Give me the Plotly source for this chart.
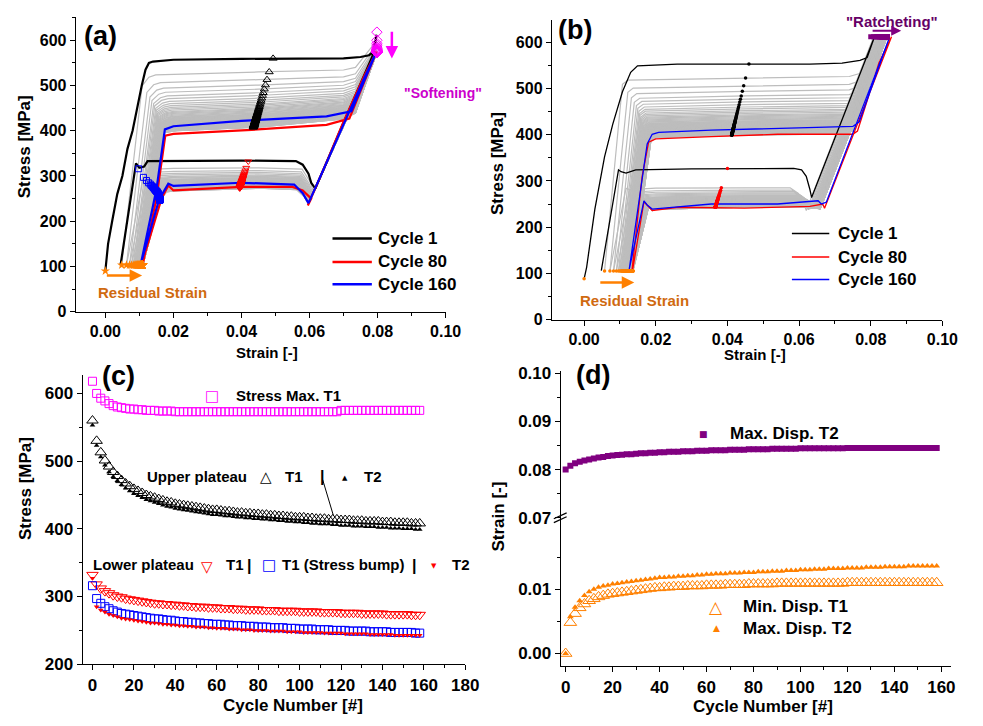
import plotly.graph_objects as go

W, H = 983, 726
FONT = "Liberation Sans, Arial, sans-serif"
SYM = "DejaVu Sans, Liberation Sans, sans-serif"

# ---------------- data: cycle-number series (panels c, d) ----------------
CYCLES = list(range(0, 160, 2))

STRESS_MAX_T1 = [618, 600, 593, 589, 585, 582, 580, 579, 578, 577,
                 577, 576, 576, 575, 575, 575, 574, 574, 574, 574,
                 573, 573, 573, 573, 573, 573, 573, 573, 573, 573,
                 573, 573, 573, 573, 573, 573, 573, 573, 573, 573,
                 573, 573, 573, 573, 573, 573, 573, 573, 573, 573,
                 573, 573, 573, 573, 573, 573, 573, 573, 573, 573,
                 575, 575, 575, 575, 575, 575, 575, 575, 575, 575,
                 575, 575, 575, 575, 575, 575, 575, 575, 575, 575]
UPPER_T1 = [560, 530, 513, 501, 492, 484, 478, 472, 467, 463,
            459, 456, 453, 450, 448, 446, 444, 442, 440, 439,
            437, 436, 435, 434, 433, 432, 431, 430, 429, 428,
            428, 427, 426, 426, 425, 424, 424, 423, 423, 422,
            422, 421, 421, 420, 420, 419, 419, 418, 418, 417,
            417, 417, 416, 416, 415, 415, 415, 414, 414, 414,
            413, 413, 413, 412, 412, 412, 411, 411, 411, 411,
            410, 410, 410, 409, 409, 409, 409, 408, 408, 408]
UPPER_T2 = [553, 523, 506, 494, 484, 477, 471, 465, 460, 456,
            452, 449, 446, 443, 441, 439, 437, 435, 433, 432,
            430, 429, 428, 427, 426, 425, 424, 423, 422, 421,
            421, 420, 419, 419, 418, 417, 417, 416, 416, 415,
            415, 414, 414, 413, 413, 412, 412, 411, 411, 410,
            410, 409, 409, 408, 408, 407, 407, 407, 406, 406,
            405, 405, 405, 404, 404, 404, 403, 403, 403, 402,
            402, 402, 401, 401, 401, 400, 400, 400, 399, 399]
LOWER_T1 = [332, 318, 312, 308, 305, 302, 300, 299, 297, 296,
            295, 294, 293, 292, 291, 290, 290, 289, 289, 288,
            288, 287, 287, 286, 286, 285, 285, 285, 284, 284,
            284, 283, 283, 283, 282, 282, 282, 281, 281, 281,
            281, 280, 280, 280, 280, 279, 279, 279, 279, 279,
            278, 278, 278, 278, 278, 277, 277, 277, 277, 277,
            276, 276, 276, 276, 276, 275, 275, 275, 275, 275,
            275, 274, 274, 274, 274, 274, 274, 273, 273, 273]
BUMP_T1 = [316, 297, 290, 285, 282, 279, 277, 275, 274, 273,
           272, 271, 270, 269, 268, 267, 267, 266, 265, 265,
           264, 263, 263, 262, 262, 261, 261, 260, 260, 259,
           259, 259, 258, 258, 257, 257, 257, 256, 256, 256,
           255, 255, 255, 254, 254, 254, 254, 253, 253, 253,
           252, 252, 252, 252, 251, 251, 251, 251, 250, 250,
           250, 250, 249, 249, 249, 249, 249, 248, 248, 248,
           248, 248, 247, 247, 247, 247, 247, 247, 246, 246]
LOWER_T2 = [327, 285, 280, 277, 274, 272, 270, 268, 267, 266,
            265, 264, 263, 262, 261, 261, 260, 259, 259, 258,
            258, 257, 257, 256, 256, 255, 255, 255, 254, 254,
            253, 253, 253, 252, 252, 252, 251, 251, 251, 250,
            250, 250, 250, 249, 249, 249, 249, 248, 248, 248,
            248, 247, 247, 247, 247, 247, 246, 246, 246, 246,
            246, 245, 245, 245, 245, 245, 245, 244, 244, 244,
            244, 244, 244, 243, 243, 243, 243, 243, 243, 243]
MAXDISP_T2 = [0.0800, 0.0808, 0.0813, 0.0816, 0.0819, 0.0821, 0.0823, 0.0825, 0.0826, 0.0828,
              0.0829, 0.0830, 0.0831, 0.0832, 0.0832, 0.0833, 0.0834, 0.0834, 0.0835, 0.0835,
              0.0836, 0.0836, 0.0837, 0.0837, 0.0837, 0.0838, 0.0838, 0.0838, 0.0839, 0.0839,
              0.0839, 0.0840, 0.0840, 0.0840, 0.0840, 0.0841, 0.0841, 0.0841, 0.0841, 0.0842,
              0.0842, 0.0842, 0.0842, 0.0842, 0.0843, 0.0843, 0.0843, 0.0843, 0.0843, 0.0843,
              0.0844, 0.0844, 0.0844, 0.0844, 0.0844, 0.0844, 0.0844, 0.0844, 0.0844, 0.0844,
              0.0845, 0.0845, 0.0845, 0.0845, 0.0845, 0.0845, 0.0845, 0.0845, 0.0845, 0.0845,
              0.0845, 0.0845, 0.0845, 0.0845, 0.0845, 0.0845, 0.0845, 0.0845, 0.0845, 0.0845]
MINDISP_T1 = [0.0000, 0.0048, 0.0062, 0.0071, 0.0077, 0.0082, 0.0085, 0.0088, 0.0090, 0.0092,
              0.0093, 0.0094, 0.0095, 0.0096, 0.0097, 0.0098, 0.0099, 0.0100, 0.0101, 0.0102,
              0.0102, 0.0103, 0.0103, 0.0104, 0.0104, 0.0104, 0.0105, 0.0105, 0.0105, 0.0105,
              0.0106, 0.0106, 0.0106, 0.0106, 0.0107, 0.0107, 0.0107, 0.0107, 0.0107, 0.0108,
              0.0108, 0.0108, 0.0108, 0.0108, 0.0108, 0.0109, 0.0109, 0.0109, 0.0109, 0.0109,
              0.0109, 0.0109, 0.0109, 0.0109, 0.0109, 0.0109, 0.0109, 0.0109, 0.0109, 0.0109,
              0.0110, 0.0110, 0.0110, 0.0110, 0.0110, 0.0110, 0.0110, 0.0110, 0.0110, 0.0110,
              0.0110, 0.0110, 0.0110, 0.0110, 0.0110, 0.0110, 0.0110, 0.0110, 0.0110, 0.0110]
DISP_T2_ORANGE = [0.0000, 0.0057, 0.0072, 0.0082, 0.0090, 0.0096, 0.0100, 0.0103, 0.0105, 0.0106,
                  0.0108, 0.0109, 0.0110, 0.0111, 0.0112, 0.0113, 0.0114, 0.0115, 0.0116, 0.0117,
                  0.0118, 0.0118, 0.0119, 0.0119, 0.0120, 0.0120, 0.0121, 0.0121, 0.0122, 0.0122,
                  0.0123, 0.0123, 0.0124, 0.0124, 0.0124, 0.0125, 0.0125, 0.0125, 0.0126, 0.0126,
                  0.0126, 0.0127, 0.0127, 0.0127, 0.0128, 0.0128, 0.0128, 0.0129, 0.0129, 0.0129,
                  0.0130, 0.0130, 0.0130, 0.0131, 0.0131, 0.0131, 0.0132, 0.0132, 0.0132, 0.0132,
                  0.0133, 0.0133, 0.0133, 0.0133, 0.0134, 0.0134, 0.0134, 0.0134, 0.0135, 0.0135,
                  0.0135, 0.0135, 0.0135, 0.0136, 0.0136, 0.0136, 0.0136, 0.0136, 0.0136, 0.0136]

# ---------------- data: hysteresis loops (panels a, b) ----------------
A_C1_STRAIN = [0.0000, 0.0008, 0.0020, 0.0035, 0.0050, 0.0065, 0.0080, 0.0095, 0.0107, 0.0118,
               0.0128, 0.0140, 0.0200, 0.0400, 0.0700, 0.0750, 0.0775, 0.0788, 0.0797, 0.0785,
               0.0700, 0.0660, 0.0617, 0.0605, 0.0597, 0.0580, 0.0560, 0.0400, 0.0200, 0.0124,
               0.0114, 0.0100, 0.0090, 0.0070, 0.0045]
A_C1_STRESS = [90, 150, 200, 260, 300, 360, 400, 460, 500, 535,
               550, 553, 557, 559, 560, 563, 567, 575, 612, 565,
               418, 348, 272, 285, 305, 325, 333, 334, 334, 333,
               321, 318, 328, 230, 105]
A_C80_STRAIN = [0.0110, 0.0150, 0.0176, 0.0200, 0.0430, 0.0650, 0.0717, 0.0797, 0.0760, 0.0700,
                0.0650, 0.0595, 0.0605, 0.0580, 0.0550, 0.0400, 0.0200, 0.0185, 0.0165, 0.0107]
A_C80_STRESS = [105, 250, 389, 393, 402, 413, 427, 575, 520, 420,
                330, 235, 250, 268, 276, 276, 268, 279, 250, 105]
A_C160_STRAIN = [0.0105, 0.0150, 0.0175, 0.0200, 0.0400, 0.0650, 0.0723, 0.0795, 0.0760, 0.0700,
                 0.0650, 0.0597, 0.0580, 0.0555, 0.0400, 0.0200, 0.0185, 0.0165, 0.0158, 0.0105]
A_C160_STRESS = [108, 270, 403, 410, 422, 432, 443, 572, 515, 415,
                 330, 240, 262, 281, 285, 278, 283, 258, 248, 108]

B_C1_STRAIN = [0.0000, 0.0007, 0.0030, 0.0057, 0.0080, 0.0107, 0.0130, 0.0149, 0.0260, 0.0630,
               0.0720, 0.0770, 0.0790, 0.0810, 0.0760, 0.0700, 0.0635, 0.0630, 0.0620, 0.0607,
               0.0585, 0.0300, 0.0144, 0.0117, 0.0103, 0.0096, 0.0048]
B_C1_STRESS = [88, 113, 239, 352, 423, 493, 535, 549, 553, 553,
               555, 561, 567, 611, 512, 393, 264, 282, 310, 324,
               327, 326, 324, 317, 320, 324, 106]
B_C80_STRAIN = [0.0133, 0.0162, 0.0180, 0.0200, 0.0355, 0.0540, 0.0750, 0.0763, 0.0795, 0.0823,
                0.0858, 0.0765, 0.0671, 0.0666, 0.0630, 0.0447, 0.0263, 0.0190, 0.0167, 0.0135]
B_C80_STRESS = [102, 310, 384, 391, 396, 401, 401, 408, 486, 556,
                612, 427, 241, 250, 245, 241, 243, 236, 255, 105]
B_C160_STRAIN = [0.0126, 0.0176, 0.0190, 0.0208, 0.0355, 0.0630, 0.0750, 0.0768, 0.0852, 0.0760,
                 0.0676, 0.0662, 0.0653, 0.0540, 0.0355, 0.0190, 0.0176, 0.0167, 0.0126]
B_C160_STRESS = [109, 380, 401, 405, 410, 415, 418, 428, 610, 424,
                 254, 250, 257, 250, 250, 239, 248, 257, 109]

B_STRESS_MAX = 612          # stress-controlled peak in panel (b)
RESIDUAL_STRESS_A = 103     # stress level of the residual-strain markers
RESIDUAL_STRESS_B = 105

# marker tracks (a),(b): (strain at first cycle, strain at last cycle)
A_UPPER_TRACK = (0.0493, 0.0435)
A_LOWER_TRACK = (0.0420, 0.0395)
B_UPPER_TRACK = (0.0460, 0.0412)
B_LOWER_TRACK = (0.0400, 0.0366)
SOFTENING_STRAIN = 0.0798


def px(x):
    return x / W


def py(y):
    return 1 - y / H


def track(vals, ends):
    a, b = vals[0], vals[-1]
    return [ends[1] + (v - b) / (a - b) * (ends[0] - ends[1]) for v in vals]


def gray_loops_a():
    xs, ys = [], []
    n = len(CYCLES)
    U0, U1 = UPPER_T1[0], UPPER_T1[-1]
    for i in range(1, n):
        r0 = MINDISP_T1[i]
        r1 = MINDISP_T1[min(i + 1, n - 1)]
        U, L, B, S = UPPER_T1[i], LOWER_T1[i], BUMP_T1[i], STRESS_MAX_T1[i]
        f = (U0 - U) / (U0 - U1)
        vx = 0.0617 - 0.0020 * f
        vy = L - 60 + 25 * f
        pts = [(r0, RESIDUAL_STRESS_A), (r0 + 0.0060, U - 35 + 22 * f), (r0 + 0.0080, U - 12 + 2 * f),
               (r0 + 0.0100, U - 6 - 2 * f), (0.045, U), (0.070, U + 1 + 17 * f),
               (0.0735, U + 5 + 26 * f), (SOFTENING_STRAIN, S), (vx, vy),
               (vx - 0.0012, vy + 0.45 * (L - vy)), (vx - 0.0035, L - 3), (0.045, L),
               (0.020, L - 6 * f), (r1 + 0.0070, L - 6 * f - 2), (r1 + 0.0050, B),
               (r1, RESIDUAL_STRESS_A)]
        for p in pts:
            xs.append(p[0]); ys.append(p[1])
        xs.append(None); ys.append(None)
    return xs, ys


def gray_loops_b():
    xs, ys = [], []
    n = len(CYCLES)
    U0, U1 = UPPER_T2[0], UPPER_T2[-1]
    S = B_STRESS_MAX
    for i in range(1, n):
        r0 = DISP_T2_ORANGE[i]
        r1 = DISP_T2_ORANGE[min(i + 1, n - 1)]
        U, L, M = UPPER_T2[i], LOWER_T2[i], MAXDISP_T2[i]
        f = (U0 - U) / (U0 - U1)
        xh = M - (S - U - 10) / 21500
        vy = L - 60 * (1 - f) - 3 * f
        vx = M - (S - vy) / 20000
        pts = [(r0, RESIDUAL_STRESS_B), (r0 + 0.0050, U - 14), (r0 + 0.0065, U - 5), (0.045, U),
               (min(0.074, xh - 0.002), U + 3), (xh, U + 10), (M, S), (vx, vy),
               (vx - 0.0008, vy + 0.35 * (L - vy)), (vx - 0.0022, vy + 0.75 * (L - vy)),
               (vx - 0.0045, L), (0.045, L), (0.020, L - 4 * f), (r1 + 0.0055, L - 4 * f - 3),
               (r1 + 0.0045, L + 6 * f - 2), (r1, RESIDUAL_STRESS_B)]
        for p in pts:
            xs.append(p[0]); ys.append(p[1])
        xs.append(None); ys.append(None)
    return xs, ys


fig = go.Figure()

GRAY = "#BDBDBD"
ORANGE = "#FF8000"
PINK = "#FF00FF"
PURPLE = "#800080"

# ---------------- panel (a) ----------------
gx, gy = gray_loops_a()
fig.add_trace(go.Scatter(x=gx, y=gy, mode="lines", line=dict(color=GRAY, width=1.2),
                         xaxis="x", yaxis="y", showlegend=False, hoverinfo="skip"))
for sx, sy, col, name in [(A_C1_STRAIN, A_C1_STRESS, "black", "Cycle 1"),
                          (A_C80_STRAIN, A_C80_STRESS, "#FF0000", "Cycle 80"),
                          (A_C160_STRAIN, A_C160_STRESS, "#0000FF", "Cycle 160")]:
    fig.add_trace(go.Scatter(x=sx, y=sy, mode="lines", line=dict(color=col, width=2.2),
                             name=name, xaxis="x", yaxis="y", showlegend=False))
fig.add_trace(go.Scatter(x=track(UPPER_T1, A_UPPER_TRACK), y=UPPER_T1, mode="markers",
                         marker=dict(symbol="triangle-up-open", size=7, color="black", line=dict(width=1)),
                         xaxis="x", yaxis="y", showlegend=False))
fig.add_trace(go.Scatter(x=track(LOWER_T1, A_LOWER_TRACK), y=LOWER_T1, mode="markers",
                         marker=dict(symbol="triangle-down-open", size=6, color="#FF0000", line=dict(width=1)),
                         xaxis="x", yaxis="y", showlegend=False))
bump_x = [MINDISP_T1[min(i + 1, len(CYCLES) - 1)] + 0.0050 for i in range(len(CYCLES))]
fig.add_trace(go.Scatter(x=bump_x, y=BUMP_T1, mode="markers",
                         marker=dict(symbol="square-open", size=6, color="#0000FF", line=dict(width=1)),
                         xaxis="x", yaxis="y", showlegend=False))
fig.add_trace(go.Scatter(x=[SOFTENING_STRAIN] * len(CYCLES), y=STRESS_MAX_T1, mode="markers",
                         marker=dict(symbol="diamond-open", size=8, color=PINK, line=dict(width=1)),
                         xaxis="x", yaxis="y", showlegend=False))
fig.add_trace(go.Scatter(x=MINDISP_T1, y=[A_C1_STRESS[0]] + [RESIDUAL_STRESS_A] * (len(CYCLES) - 1),
                         mode="markers", marker=dict(symbol="star", size=7, color=ORANGE),
                         xaxis="x", yaxis="y", showlegend=False))

# ---------------- panel (b) ----------------
gx, gy = gray_loops_b()
fig.add_trace(go.Scatter(x=gx, y=gy, mode="lines", line=dict(color=GRAY, width=1.2),
                         xaxis="x2", yaxis="y2", showlegend=False, hoverinfo="skip"))
for sx, sy, col, name in [(B_C1_STRAIN, B_C1_STRESS, "black", "Cycle 1"),
                          (B_C80_STRAIN, B_C80_STRESS, "#FF0000", "Cycle 80"),
                          (B_C160_STRAIN, B_C160_STRESS, "#0000FF", "Cycle 160")]:
    fig.add_trace(go.Scatter(x=sx, y=sy, mode="lines", line=dict(color=col, width=1.3),
                             name=name, xaxis="x2", yaxis="y2", showlegend=False))
fig.add_trace(go.Scatter(x=track(UPPER_T2, B_UPPER_TRACK), y=UPPER_T2, mode="markers",
                         marker=dict(symbol="circle", size=3.5, color="black"),
                         xaxis="x2", yaxis="y2", showlegend=False))
fig.add_trace(go.Scatter(x=track(LOWER_T2, B_LOWER_TRACK), y=LOWER_T2, mode="markers",
                         marker=dict(symbol="circle", size=3.5, color="#FF0000"),
                         xaxis="x2", yaxis="y2", showlegend=False))
fig.add_trace(go.Scatter(x=MAXDISP_T2, y=[B_STRESS_MAX] * len(CYCLES), mode="markers",
                         marker=dict(symbol="square", size=5, color=PURPLE),
                         xaxis="x2", yaxis="y2", showlegend=False))
fig.add_trace(go.Scatter(x=DISP_T2_ORANGE, y=[B_C1_STRESS[0]] + [RESIDUAL_STRESS_B] * (len(CYCLES) - 1),
                         mode="markers", marker=dict(symbol="circle", size=3.5, color=ORANGE),
                         xaxis="x2", yaxis="y2", showlegend=False))

# ---------------- panel (c) ----------------
fig.add_trace(go.Scatter(x=CYCLES, y=STRESS_MAX_T1, mode="markers", name="Stress Max. T1",
                         marker=dict(symbol="square-open", size=8, color=PINK, line=dict(width=1)),
                         xaxis="x3", yaxis="y3", showlegend=False))
fig.add_trace(go.Scatter(x=CYCLES, y=UPPER_T1, mode="markers", name="Upper plateau T1",
                         marker=dict(symbol="triangle-up-open", size=10, color="black", line=dict(width=1)),
                         xaxis="x3", yaxis="y3", showlegend=False))
fig.add_trace(go.Scatter(x=CYCLES, y=UPPER_T2, mode="markers", name="Upper plateau T2",
                         marker=dict(symbol="triangle-up", size=5, color="black"),
                         xaxis="x3", yaxis="y3", showlegend=False))
fig.add_trace(go.Scatter(x=CYCLES, y=LOWER_T1, mode="markers", name="Lower plateau T1",
                         marker=dict(symbol="triangle-down-open", size=10, color="#FF0000", line=dict(width=1)),
                         xaxis="x3", yaxis="y3", showlegend=False))
fig.add_trace(go.Scatter(x=CYCLES, y=BUMP_T1, mode="markers", name="T1 (Stress bump)",
                         marker=dict(symbol="square-open", size=8, color="#0000FF", line=dict(width=1)),
                         xaxis="x3", yaxis="y3", showlegend=False))
fig.add_trace(go.Scatter(x=CYCLES, y=LOWER_T2, mode="markers", name="Lower plateau T2",
                         marker=dict(symbol="triangle-down", size=5, color="#FF0000"),
                         xaxis="x3", yaxis="y3", showlegend=False))

# ---------------- panel (d) ----------------
fig.add_trace(go.Scatter(x=CYCLES, y=MAXDISP_T2, mode="markers", name="Max. Disp. T2",
                         marker=dict(symbol="square", size=6, color=PURPLE),
                         xaxis="x4", yaxis="y5", showlegend=False))
fig.add_trace(go.Scatter(x=CYCLES, y=MINDISP_T1, mode="markers", name="Min. Disp. T1",
                         marker=dict(symbol="triangle-up-open", size=11, color=ORANGE, line=dict(width=1)),
                         xaxis="x4", yaxis="y4", showlegend=False))
fig.add_trace(go.Scatter(x=CYCLES, y=DISP_T2_ORANGE, mode="markers", name="Max. Disp. T2 (orange)",
                         marker=dict(symbol="triangle-up", size=6, color=ORANGE),
                         xaxis="x4", yaxis="y4", showlegend=False))


def axis(**kw):
    base = dict(showline=True, linecolor="black", linewidth=1.2, ticks="outside", ticklen=5,
                tickwidth=1.2, tickcolor="black", showgrid=False, zeroline=False,
                tickfont=dict(family=FONT, size=16, color="black", weight="bold"))
    base.update(kw)
    return base


MINOR = dict(ticks="outside", ticklen=3, tickwidth=1, tickcolor="black")
BIG = dict(family=FONT, size=17, color="black", weight="bold")

layout = dict(
    width=W, height=H, margin=dict(l=0, r=0, t=0, b=0), autosize=False,
    paper_bgcolor="white", plot_bgcolor="white", showlegend=False,
    xaxis=axis(domain=[px(77), px(453)], range=[-0.0087, 0.1], anchor="y",
               tickvals=[0, 0.02, 0.04, 0.06, 0.08, 0.10], tickformat=".2f",
               minor=dict(MINOR, dtick=0.01, tick0=0)),
    yaxis=axis(domain=[py(312), py(10)], range=[0, 652], anchor="x", dtick=100,
               minor=dict(MINOR, dtick=50, tick0=0)),
    xaxis2=axis(domain=[px(561), px(958)], range=[-0.009, 0.1], anchor="y2",
                tickvals=[0, 0.02, 0.04, 0.06, 0.08, 0.10], tickformat=".2f",
                minor=dict(MINOR, dtick=0.01, tick0=0)),
    yaxis2=axis(domain=[py(320), py(13)], range=[0, 649], anchor="x2", dtick=100,
                minor=dict(MINOR, dtick=50, tick0=0)),
    xaxis3=axis(domain=[px(84), px(473)], range=[-4.75, 180], anchor="y3",
                tickvals=list(range(0, 181, 20)), tickfont=BIG,
                minor=dict(MINOR, dtick=10, tick0=0)),
    yaxis3=axis(domain=[py(673), py(377)], range=[200, 627], anchor="x3", tickvals=[200, 300, 400, 500, 600],
                tickfont=BIG, minor=dict(MINOR, dtick=50, tick0=0)),
    xaxis4=axis(domain=[px(570), px(967)], range=[-2.1, 164.2], anchor="y4",
                tickvals=list(range(0, 161, 20)), tickfont=BIG,
                minor=dict(MINOR, dtick=10, tick0=0)),
    yaxis4=axis(domain=[py(675), py(523)], range=[-0.00197, 0.0211], anchor="x4",
                tickvals=[0.0, 0.01], tickformat=".2f", tickfont=BIG,
                minor=dict(MINOR, tickvals=[0.005, 0.015])),
    yaxis5=axis(domain=[py(523), py(373)], range=[0.07, 0.1004], anchor="x4",
                tickvals=[0.07, 0.08, 0.09, 0.10], tickformat=".2f", tickfont=BIG,
                minor=dict(MINOR, dtick=0.005, tick0=0)),
)
fig.update_layout(**layout)


def txt(s, x, y, size, color="black", xanchor="center", angle=0, family=FONT):
    return dict(text=s, x=px(x), y=py(y), xref="paper", yref="paper", showarrow=False,
                xanchor=xanchor, yanchor="middle", textangle=angle,
                font=dict(family=family, size=size, color=color, weight="bold"))


def arrow(x, y, ax, ay, xr, yr, color, width=2.5):
    return dict(x=x, y=y, ax=ax, ay=ay, xref=xr, yref=yr, axref=xr, ayref=yr, text="",
                showarrow=True, arrowhead=2, arrowsize=1, arrowwidth=width, arrowcolor=color)


ann = [
    # panel labels
    txt("(a)", 83, 30, 27, xanchor="left"),
    txt("(b)", 565, 24, 27, xanchor="left"),
    txt("(c)", 102, 378, 27, xanchor="left"),
    txt("(d)", 584, 377, 27, xanchor="left"),
    # axis titles
    txt("Strain [-]", 271, 354, 15),
    txt("Stress [MPa]", 25, 143, 17, angle=-90),
    txt("Strain [-]", 768, 356, 15),
    txt("Stress [MPa]", 505, 160, 17, angle=-90),
    txt("Cycle Number [#]", 298, 715, 17),
    txt("Stress [MPa]", 26, 493, 17, angle=-90),
    txt("Cycle Number [#]", 776, 716, 17),
    txt("Strain [-]", 507, 522, 17, angle=-90),
    # panel (a) legend + notes
    txt("Cycle 1", 382, 237, 17, xanchor="left"),
    txt("Cycle 80", 382, 261, 17, xanchor="left"),
    txt("Cycle 160", 382, 284, 17, xanchor="left"),
    txt("Residual Strain", 155, 292, 15, color="#D06A10"),
    txt("\"Softening\"", 450, 88, 14, color="#CC00CC"),
    arrow(0.0108, 80, 0.0, 80, "x", "y", ORANGE),
    arrow(0.0842, 560, 0.0842, 622, "x", "y", PINK),
    # panel (b) legend + notes
    txt("Cycle 1", 850, 232, 17, xanchor="left"),
    txt("Cycle 80", 850, 256, 17, xanchor="left"),
    txt("Cycle 160", 850, 279, 17, xanchor="left"),
    txt("Residual Strain", 645, 301, 15, color="#D06A10"),
    txt("\"Ratcheting\"", 907, 15, 15, color="#660066"),
    arrow(0.0140, 80, 0.0041, 80, "x2", "y2", ORANGE),
    arrow(0.0885, 625, 0.0801, 625, "x2", "y2", PURPLE, 2),
    # panel (c) labels
    txt("□", 216, 398, 15, color=PINK, family=SYM),
    txt("Stress Max. T1", 238, 398, 15, xanchor="left"),
    txt("Upper plateau", 147, 481, 15, xanchor="left"),
    txt("△", 270, 481, 15, family=SYM),
    txt("T1", 288, 481, 15, xanchor="left"),
    txt("|", 327, 481, 16),
    txt("▲", 351, 482, 7, family=SYM),
    txt("T2", 368, 481, 15, xanchor="left"),
    txt("Lower plateau", 92, 571, 15, xanchor="left"),
    txt("▽", 210, 573, 15, color="#FF0000", family=SYM),
    txt("T1", 228, 571, 15, xanchor="left"),
    txt("|", 253, 572, 16),
    txt("□", 273, 571, 15, color="#0000FF", family=SYM),
    txt("T1 (Stress bump)", 285, 571, 15, xanchor="left"),
    txt("|", 421, 572, 16),
    txt("▼", 441, 572, 7, color="#FF0000", family=SYM),
    txt("T2", 457, 571, 15, xanchor="left"),
    # panel (d) labels
    txt("■", 715, 437, 9, color=PURPLE, family=SYM),
    txt("Max. Disp. T2", 740, 437, 17, xanchor="left"),
    txt("△", 728, 614, 17, color=ORANGE, family=SYM),
    txt("Min. Disp. T1", 753, 614, 17, xanchor="left"),
    txt("▲", 728, 636, 9, color=ORANGE, family=SYM),
    txt("Max. Disp. T2", 753, 636, 17, xanchor="left"),
]


def pline(x0, y0, x1, y1, color, width):
    return dict(type="line", xref="paper", yref="paper", x0=px(x0), y0=py(y0), x1=px(x1), y1=py(y1),
                line=dict(color=color, width=width))


shapes = [
    pline(338, 237, 378, 237, "black", 2.5),
    pline(338, 261, 378, 261, "#FF0000", 2.5),
    pline(338, 284, 378, 284, "#0000FF", 2.5),
    pline(805, 232, 843, 232, "black", 1.5),
    pline(805, 256, 843, 256, "#FF0000", 1.5),
    pline(805, 279, 843, 279, "#0000FF", 1.5),
    # pointer line in (c)
    pline(328, 484, 339, 521, "black", 1),
    # axis-break marks in (d)
    pline(563, 524, 576, 518, "black", 1.2),
    pline(563, 528, 576, 522, "black", 1.2),
]

fig.update_layout(annotations=ann, shapes=shapes)
fig.write_html("out.html")
